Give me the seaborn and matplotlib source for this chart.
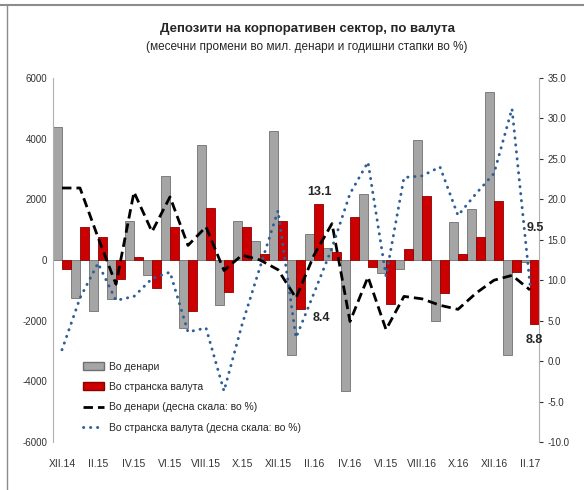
import numpy as np
import pandas as pd
import seaborn as sns
import matplotlib.pyplot as plt
from matplotlib.lines import Line2D
from matplotlib.patches import Patch

# месеци XII.14 - II.17
months = ['XII.14', 'I.15', 'II.15', 'III.15', 'IV.15', 'V.15', 'VI.15', 'VII.15',
          'VIII.15', 'IX.15', 'X.15', 'XI.15', 'XII.15', 'I.16', 'II.16', 'III.16',
          'IV.16', 'V.16', 'VI.16', 'VII.16', 'VIII.16', 'IX.16', 'X.16', 'XI.16',
          'XII.16', 'I.17', 'II.17']
tick_labels = ['XII.14', 'II.15', 'IV.15', 'VI.15', 'VIII.15', 'X.15', 'XII.15',
               'II.16', 'IV.16', 'VI.15', 'VIII.16', 'X.16', 'XII.16', 'II.17']

# месечни промени, мил. денари
denar_change = [4400, -1250, -1680, -1300, 1300, -500, 2770, -2250, 3800, -1490, 1290, 640,
                4260, -3130, 860, 410, -4320, 2160, -420, -300, 3960, -2010, 1240, 1680,
                5530, -3130, -50]
fx_change = [-300, 1090, 770, -630, 110, -930, 1080, -1680, 1720, -1040, 1100, 200,
             1270, -1620, 1840, 250, 1430, -220, -1450, 360, 2120, -1100, 200, 770,
             1950, -400, -2110]

# годишни стапки, %
denar_growth = [21.4, 21.4, 15.3, 9.5, 20.9, 16.0, 20.3, 14.3, 16.6, 11.2, 13.1, 12.5,
                11.3, 7.8, 13.1, 17.0, 4.9, 10.4, 3.9, 8.0, 7.7, 6.9, 6.4, 8.4,
                10.0, 10.6, 8.8]
fx_growth = [1.4, 7.8, 12.1, 7.5, 8.0, 10.2, 11.0, 3.6, 4.1, -3.7, 4.5, 11.6,
             18.6, 2.9, 8.4, 14.0, 20.7, 24.6, 10.5, 22.7, 22.9, 24.0, 18.0, 20.7,
             23.2, 31.2, 9.5]

series = ['Во денари', 'Во странска валута']
line_names = ['Во денари (десна скала: во %)', 'Во странска валута (десна скала: во %)']

sns.set_style('white')
plt.rcParams['font.family'] = ['Liberation Sans', 'DejaVu Sans']
plt.rcParams['axes.unicode_minus'] = False

gray = '#A5A5A5'
red = '#CC0000'
blue = '#2F5E97'
dash_black = (0, (3.4, 1.8))
dot_blue = (0, (0.1, 2.3))

df = pd.DataFrame({
    'month': months * 2,
    'value': denar_change + fx_change,
    'series': [series[0]] * len(months) + [series[1]] * len(months),
})

fig = plt.figure(figsize=(5.84, 4.90), dpi=100)
ax = fig.add_axes([53 / 584, 48 / 490, 486 / 584, 364 / 490])

sns.barplot(data=df, x='month', y='value', hue='series', palette=[gray, red],
            width=1.0, gap=0, ax=ax, legend=False, saturation=1)
edge_cols = ['#707070', '#8B0000']
for cont, ec in zip(ax.containers, edge_cols):
    for bar in cont:
        bar.set_edgecolor(ec)
        bar.set_linewidth(0.6)

ax.set_xlim(-0.5, len(months) - 0.5)
ax.set_ylim(-6000, 6000)
ax.set_yticks(np.arange(-6000, 6001, 2000))
ax.set_yticklabels([str(v) for v in range(-6000, 6001, 2000)])
ax.set_xticks(range(0, len(months), 2))
ax.set_xticklabels(tick_labels)
ax.set_xlabel('')
ax.set_ylabel('')
ax.tick_params(axis='y', length=0, pad=4, labelsize=7, colors='#333333')
ax.tick_params(axis='x', length=0, pad=12, labelsize=7.5, colors='#333333')
for s in ['top', 'bottom', 'right']:
    ax.spines[s].set_visible(False)
ax.spines['left'].set_color('#B0B0B0')

ax2 = ax.twinx()
x = np.arange(len(months))
sns.lineplot(x=x, y=denar_growth, ax=ax2, color='black', linewidth=2.0,
             linestyle=dash_black)
sns.lineplot(x=x, y=fx_growth, ax=ax2, color=blue, linewidth=2.1,
             linestyle=dot_blue, dash_capstyle='round')
ax2.set_ylim(-10, 35)
ax2.set_yticks(np.arange(-10, 36, 5))
ax2.set_yticklabels([f'{v:.1f}' for v in np.arange(-10, 36, 5)])
ax2.tick_params(axis='y', length=3, pad=3, labelsize=7, colors='#333333')
for s in ['top', 'bottom', 'left']:
    ax2.spines[s].set_visible(False)
ax2.spines['right'].set_color('#B0B0B0')
ax2.set_xlim(-0.5, len(months) - 0.5)

# ознаки
ax2.text(14.3, 20.9, '13.1', ha='center', va='center', fontsize=9, fontweight='bold')
ax2.text(14.4, 5.3, '8.4', ha='center', va='center', fontsize=9, fontweight='bold')
ax2.text(26.3, 16.4, '9.5', ha='center', va='center', fontsize=9, fontweight='bold')
ax2.text(26.25, 2.6, '8.8', ha='center', va='center', fontsize=9, fontweight='bold')

handles = [Patch(facecolor=gray, edgecolor='#707070'),
           Patch(facecolor=red, edgecolor='#8B0000'),
           Line2D([], [], color='black', lw=2.0, linestyle=dash_black),
           Line2D([], [], color=blue, lw=2.1, linestyle=dot_blue, dash_capstyle='round')]
ax2.legend(handles, series + line_names, loc='lower left',
           bbox_to_anchor=(78 / 584, 52 / 490), bbox_transform=fig.transFigure,
           frameon=False, fontsize=7.5, handlelength=2.0, handleheight=0.8,
           labelspacing=1.0, handletextpad=0.5, borderpad=0)

fig.text(308 / 584, 1 - 29 / 490, 'Депозити на корпоративен сектор, по валута',
         ha='center', va='center', fontsize=9.5, fontweight='bold')
fig.text(307 / 584, 1 - 47 / 490, '(месечни промени во мил. денари и годишни стапки во %)',
         ha='center', va='center', fontsize=8.5)

# рамка
fig.add_artist(Line2D([0, 1], [1 - 5 / 490] * 2, color='#8C8C8C', lw=1.5))
fig.add_artist(Line2D([7 / 584] * 2, [0, 1 - 5 / 490], color='#8C8C8C', lw=1))

fig.savefig('out.png', dpi=100)
